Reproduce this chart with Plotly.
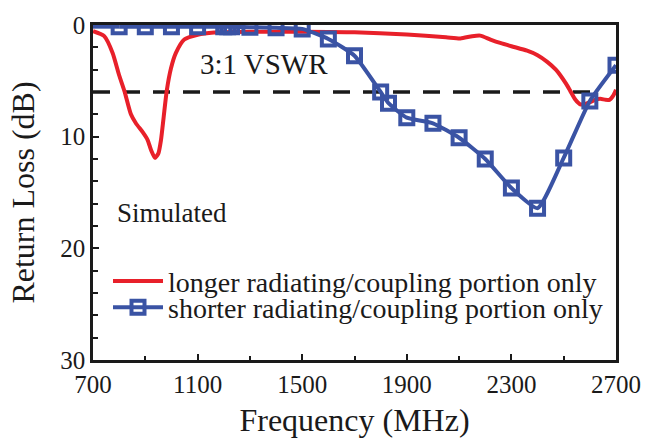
import plotly.graph_objects as go

# Data
red_freq = [700, 743, 775, 800, 820, 845, 864, 890, 909, 922, 937, 950, 960, 970, 982, 998, 1017,
            1049, 1100, 1163, 1300, 1500, 1700, 1900, 2050, 2105, 2150, 2181, 2220, 2257, 2300,
            2360, 2400, 2437, 2470, 2487, 2510, 2525, 2545, 2563, 2580, 2601, 2620, 2640, 2660,
            2675, 2690, 2700]
red_rl = [0.55, 1.0, 2.5, 4.5, 5.9, 8.0, 8.8, 9.6, 10.3, 11.2, 11.9, 11.5, 10.3, 8.3, 5.9, 3.9, 2.5,
          1.3, 0.87, 0.67, 0.6, 0.6, 0.65, 0.85, 1.1, 1.2, 1.0, 0.95, 1.3, 1.6, 1.9,
          2.3, 2.7, 3.3, 4.0, 4.5, 5.3, 5.9, 6.7, 7.1, 7.1, 6.9, 6.7, 6.6, 6.7,
          6.7, 6.3, 5.8]

blue_lead_freq = [700, 800]
blue_lead_rl = [0.15, 0.15]
blue_freq = [800, 900, 1000, 1100, 1200, 1215, 1230, 1300, 1400, 1500, 1600, 1700, 1800, 1830,
             1900, 2000, 2100, 2200, 2300, 2400, 2500, 2600, 2700]
blue_rl = [0.15, 0.15, 0.15, 0.15, 0.15, 0.15, 0.15, 0.2, 0.25, 0.35, 1.25, 2.75, 6.0, 7.0,
           8.3, 8.8, 10.1, 12.0, 14.6, 16.4, 11.9, 6.8, 3.6]

vswr_freq = [700, 2640]
vswr_rl = [6, 6]

x_ticks = [700, 1100, 1500, 1900, 2300, 2700]
y_ticks = [0, 10, 20, 30]

RED = "#E8202A"
BLUE = "#3A53A4"
INK = "#1a1a1a"
FONT = "Liberation Serif"

fig = go.Figure()
fig.add_trace(go.Scatter(x=vswr_freq, y=vswr_rl, mode="lines", showlegend=False,
                         line=dict(color=INK, width=3.5, dash="17px,13px")))
fig.add_trace(go.Scatter(x=red_freq, y=red_rl, mode="lines",
                         name="longer radiating/coupling portion only", legend="legend",
                         line=dict(color=RED, width=4, shape="spline", smoothing=0.6)))
fig.add_trace(go.Scatter(x=blue_lead_freq, y=blue_lead_rl, mode="lines", showlegend=False,
                         line=dict(color=BLUE, width=4)))
fig.add_trace(go.Scatter(x=blue_freq, y=blue_rl, mode="lines+markers",
                         name="shorter radiating/coupling portion only", legend="legend2",
                         line=dict(color=BLUE, width=4, shape="spline", smoothing=0.5),
                         marker=dict(symbol="square-open", size=13, color=BLUE,
                                     line=dict(color=BLUE, width=4))))

fig.add_annotation(x=(264 - 93) / 523, xref="paper", y=3.5, yref="y", text="3:1 VSWR",
                   showarrow=False, font=dict(family=FONT, size=29, color=INK),
                   xanchor="center", yanchor="middle")
fig.add_annotation(x=(115 - 93) / 523, xref="paper", y=16.85, yref="y", text="Simulated", showarrow=False,
                   font=dict(family=FONT, size=27, color=INK), xanchor="left", yanchor="middle")

leg_common = dict(xanchor="left", yanchor="middle", bgcolor="rgba(0,0,0,0)",
                  font=dict(family=FONT, size=28, color=INK), itemwidth=50)

fig.update_layout(
    width=653, height=445,
    margin=dict(l=93, r=37, t=15, b=85),
    paper_bgcolor="white", plot_bgcolor="white",
    font=dict(family=FONT, size=25, color=INK),
    legend=dict(x=15 / 523, y=(360 - 279) / 345, **leg_common),
    legend2=dict(x=15 / 523, y=(360 - 306) / 345, **leg_common),
    xaxis=dict(range=[700, 2700], tickvals=x_ticks, ticktext=[str(v) for v in x_ticks],
               ticks="inside", ticklen=6, tickwidth=1.5, tickcolor=INK,
               minor=dict(dtick=200, tick0=700, ticks="inside", ticklen=4, tickcolor=INK, tickwidth=1.5),
               showline=True, linecolor=INK, linewidth=2.5, mirror=True,
               showgrid=False, zeroline=False,
               title=dict(text="Frequency (MHz)", font=dict(family=FONT, size=32), standoff=12),
               tickfont=dict(family=FONT, size=25)),
    yaxis=dict(range=[30, 0], tickvals=y_ticks, ticktext=[str(v) for v in y_ticks],
               ticks="inside", ticklen=6, tickwidth=1.5, tickcolor=INK,
               minor=dict(dtick=2, tick0=0, ticks="inside", ticklen=5, tickcolor=INK, tickwidth=1.5),
               showline=True, linecolor=INK, linewidth=2.5, mirror=True,
               showgrid=False, zeroline=False,
               title=dict(text="Return Loss (dB)", font=dict(family=FONT, size=32), standoff=17),
               tickfont=dict(family=FONT, size=25)),
)

fig.write_html("out.html")
